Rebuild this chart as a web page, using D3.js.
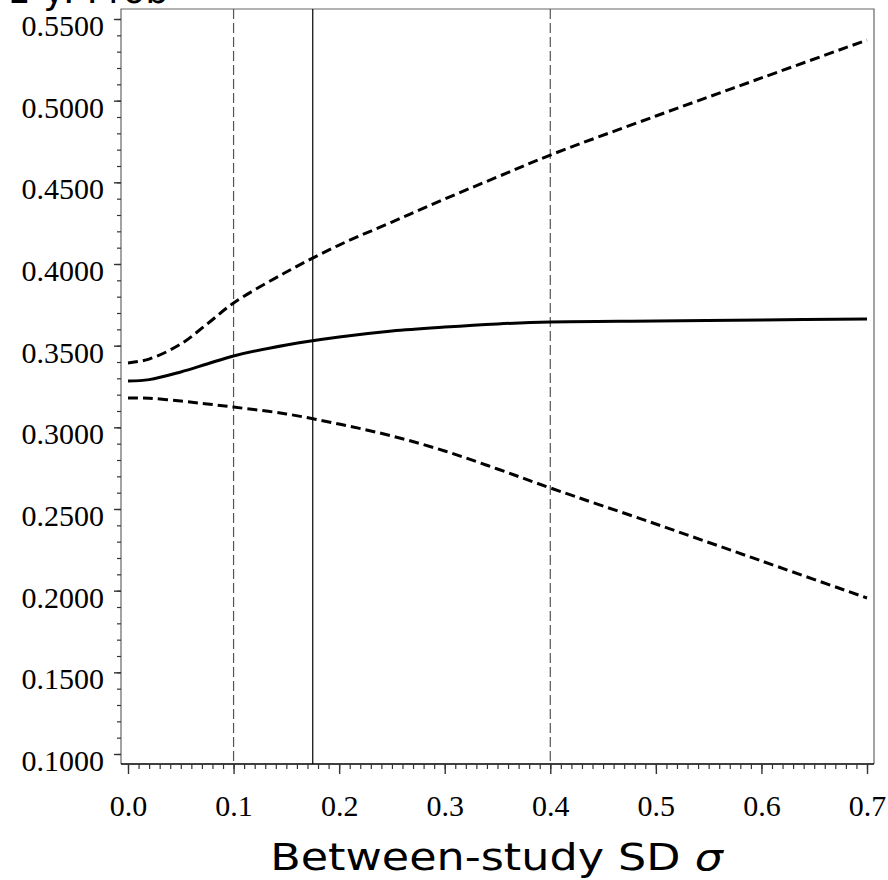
<!DOCTYPE html>
<html>
<head>
<meta charset="utf-8">
<script src="https://cdn.jsdelivr.net/npm/d3@7"></script>
<style>
  html, body { margin: 0; padding: 0; background: #fff; }
  svg { display: block; }
</style>
</head>
<body>
<svg id="chart" width="888" height="880"></svg>
<script>
// Between-study SD grid and the three estimated curves
const sigma      = [0.00, 0.02, 0.05, 0.075, 0.10, 0.15, 0.20, 0.25, 0.30, 0.35, 0.40, 0.50, 0.60, 0.70];
const estimate   = [0.3284, 0.3292, 0.3339, 0.3388, 0.3437, 0.3504, 0.3553, 0.3590, 0.3614, 0.3633, 0.3645, 0.3651, 0.3657, 0.3663];
const upperBound = [0.3394, 0.3418, 0.3510, 0.3633, 0.3761, 0.3951, 0.4116, 0.4257, 0.4398, 0.4533, 0.4667, 0.4906, 0.5139, 0.5371];
const lowerBound = [0.3180, 0.3178, 0.3161, 0.3143, 0.3124, 0.3082, 0.3020, 0.2947, 0.2855, 0.2745, 0.2629, 0.2408, 0.2182, 0.1955];

// Reference values of sigma
const dashedRefs = [0.1, 0.4];
const solidRefs  = [0.175];

// Tick labels
const xTicks = [0.0, 0.1, 0.2, 0.3, 0.4, 0.5, 0.6, 0.7];
const yTicks = [0.10, 0.15, 0.20, 0.25, 0.30, 0.35, 0.40, 0.45, 0.50, 0.55];
const xMinor = d3.range(0, 71).map(i => i / 100);
const yMinor = d3.range(10, 56).map(i => i / 100);

const titleText = "1-y: Prob";
const xTitle = "Between-study SD ";
const xSymbol = "\u03C3";

const svg = d3.select("#chart");

// Plot frame
const frame = { left: 121, right: 874, top: 9, bottom: 764 };

const x = d3.scaleLinear().domain([0, 0.7]).range([128, 867]);
const y = d3.scaleLinear().domain([0.10, 0.55]).range([754, 19]);

// Frame lines (left, top, right)
svg.append("path")
  .attr("d", `M${frame.left},${frame.bottom}V${frame.top}H${frame.right}V${frame.bottom}`)
  .attr("fill", "none")
  .attr("stroke", "#666")
  .attr("stroke-width", 1.2);

// Reference verticals
svg.selectAll(".ref-dash").data(dashedRefs).join("line")
  .attr("class", "ref-dash")
  .attr("x1", d => x(d)).attr("x2", d => x(d))
  .attr("y1", frame.top).attr("y2", frame.bottom)
  .attr("stroke", "#555")
  .attr("stroke-width", 1.2)
  .attr("stroke-dasharray", "10,4");

svg.selectAll(".ref-solid").data(solidRefs).join("line")
  .attr("class", "ref-solid")
  .attr("x1", d => x(d)).attr("x2", d => x(d))
  .attr("y1", frame.top).attr("y2", frame.bottom)
  .attr("stroke", "#000")
  .attr("stroke-width", 1.2);

// Curves
const line = d3.line().x((d, i) => x(sigma[i])).y(d => y(d)).curve(d3.curveCatmullRom.alpha(0.5));

svg.append("path").datum(upperBound)
  .attr("d", line).attr("fill", "none")
  .attr("stroke", "#000").attr("stroke-width", 3)
  .attr("stroke-dasharray", "10,5");

svg.append("path").datum(lowerBound)
  .attr("d", line).attr("fill", "none")
  .attr("stroke", "#000").attr("stroke-width", 3)
  .attr("stroke-dasharray", "10,5");

svg.append("path").datum(estimate)
  .attr("d", line).attr("fill", "none")
  .attr("stroke", "#000").attr("stroke-width", 3);

// Bottom axis line
svg.append("line")
  .attr("x1", frame.left).attr("x2", frame.right)
  .attr("y1", frame.bottom).attr("y2", frame.bottom)
  .attr("stroke", "#000").attr("stroke-width", 1.5);

const tickFont = "'Liberation Serif', 'Times New Roman', serif";

// X axis: minor then major ticks
const gxMinor = svg.append("g").attr("transform", `translate(0,${frame.bottom})`)
  .call(d3.axisBottom(x).tickValues(xMinor).tickSize(5).tickFormat(""));
gxMinor.select(".domain").remove();
gxMinor.selectAll("line").attr("stroke", "#333").attr("stroke-width", 1.2);

const gx = svg.append("g").attr("transform", `translate(0,${frame.bottom})`)
  .call(d3.axisBottom(x).tickValues(xTicks).tickSize(10).tickPadding(21).tickFormat(d3.format(".1f")));
gx.select(".domain").remove();
gx.selectAll("line").attr("stroke", "#333").attr("stroke-width", 1.4);
gx.selectAll("text")
  .attr("font-family", tickFont).attr("font-size", 30).attr("fill", "#000");

// Y axis: minor then major ticks
const gyMinor = svg.append("g").attr("transform", `translate(${frame.left},0)`)
  .call(d3.axisLeft(y).tickValues(yMinor).tickSize(4).tickFormat(""));
gyMinor.select(".domain").remove();
gyMinor.selectAll("line").attr("stroke", "#333").attr("stroke-width", 1.2);

const gy = svg.append("g").attr("transform", `translate(${frame.left},0)`)
  .call(d3.axisLeft(y).tickValues(yTicks).tickSize(7).tickPadding(10).tickFormat(d3.format(".4f")));
gy.select(".domain").remove();
gy.selectAll("line").attr("stroke", "#333").attr("stroke-width", 1.4);
gy.selectAll("text")
  .attr("font-family", tickFont).attr("font-size", 30).attr("fill", "#000")
  .attr("dy", "0.55em");

// Axis title, set in a wide sans
const t = svg.append("text")
  .attr("transform", `translate(${(frame.left + frame.right) / 2 - 1},870) scale(1.17,1)`)
  .attr("text-anchor", "middle")
  .attr("font-family", "'DejaVu Sans', Verdana, sans-serif")
  .attr("font-size", 38)
  .attr("fill", "#000");
t.append("tspan").text(xTitle);
t.append("tspan").attr("font-style", "italic").text(xSymbol);

// Title, running off the top edge
svg.append("text")
  .attr("x", 7)
  .attr("y", 3)
  .attr("font-family", "'DejaVu Sans', Verdana, sans-serif")
  .attr("font-size", 37)
  .attr("fill", "#000")
  .text(titleText);
</script>
</body>
</html>
